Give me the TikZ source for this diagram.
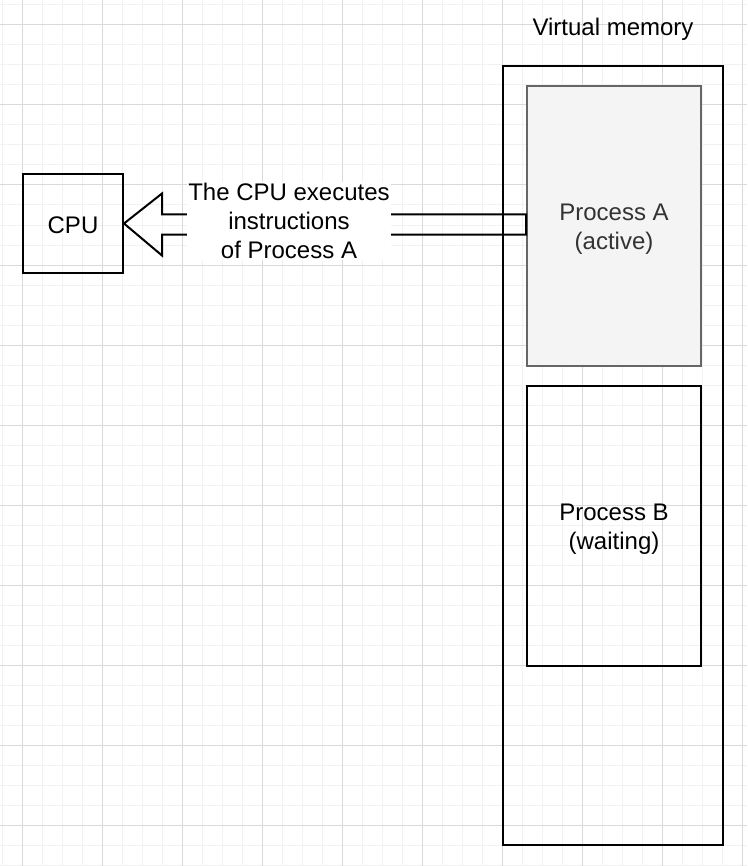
\documentclass[tikz,border=0pt]{standalone}
\usepackage{fontspec}
\setmainfont{Liberation Sans}
\usepackage{xcolor}
\definecolor{gridMinor}{HTML}{F2F2F2}
\definecolor{gridMajor}{HTML}{DADADA}
\definecolor{activeFill}{HTML}{F4F4F4}
\definecolor{activeLine}{HTML}{666666}
\definecolor{activeText}{HTML}{333333}

\begin{document}
\begin{tikzpicture}[x=0.75pt,y=-0.75pt,
  every node/.style={font=\fontsize{18}{21.6}\selectfont},
  box/.style={draw, line width=1.5pt},
  procbox/.style={box, minimum width=130.5pt, minimum height=210pt, align=center, text height=39pt},
  blockarrow/.style={draw, line width=1.5pt, line join=miter}]
 \useasboundingbox (0,0) rectangle (747,866);
 % Grid
 \foreach \gx in {2,22,...,742} \draw[gridMinor, line width=0.75pt] (\gx,0) -- (\gx,866);
 \foreach \gy in {5,25,...,865} \draw[gridMinor, line width=0.75pt] (0,\gy) -- (747,\gy);
 \foreach \gx in {22,102,...,742} \draw[gridMajor, line width=0.75pt] (\gx,0) -- (\gx,866);
 \foreach \gy in {25,105,...,825} \draw[gridMajor, line width=0.75pt] (0,\gy) -- (747,\gy);
 % CPU
 \node[box, minimum width=75pt, minimum height=74.25pt, text height=15pt] (cpu) at (73,223.5) {CPU};
 % Virtual memory
 \node[box, minimum width=165pt, minimum height=584.25pt] (vmem) at (613,455.5) {};
 \node (vmlabel) at (613,29) {Virtual memory};
 \node[procbox, draw=activeLine, fill=activeFill, text=activeText] (procA) at (614,226) {Process A\\(active)};
 \node[procbox] (procB) at (614,526) {Process B\\(waiting)};
 % Execution arrow
 \draw[blockarrow] (cpu.east) -- ++(38,-30) -- ++(0,21) coordinate (s1)
   -- (s1 -| procA.west) -- ++(0,20) coordinate (s2) -- (s2 -| s1) -- ++(0,21) -- cycle;
 \node[fill=white, align=center, inner sep=1pt] (execlabel) at (289,221) {The CPU executes\\instructions\\of Process A};
\end{tikzpicture}
\end{document}
